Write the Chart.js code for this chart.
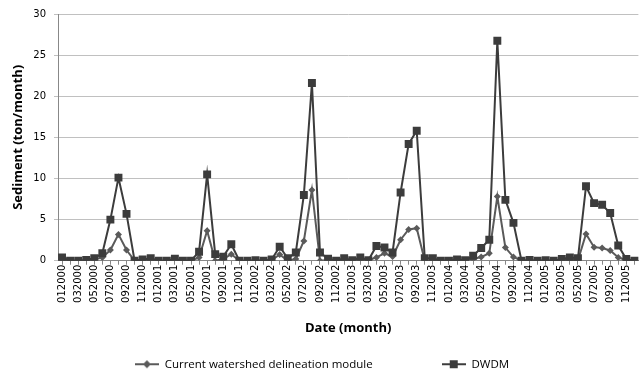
<!DOCTYPE html>
<html>
<head>
<meta charset="utf-8">
<script src="https://cdn.jsdelivr.net/npm/chart.js@4"></script>
<style>
  html, body { margin: 0; padding: 0; background: #fff; }
  #wrap { width: 644px; height: 374px; }
</style>
</head>
<body>
<div id="wrap"><canvas id="canvas"></canvas></div>
<script>
const years = ["2000", "2001", "2002", "2003", "2004", "2005"];
const months = ["01", "02", "03", "04", "05", "06", "07", "08", "09", "10", "11", "12"];
const labels = [];
years.forEach((y) => months.forEach((m) => labels.push(m + y)));

// sediment, ton/month
const currentModule = [
	0.05, 0, 0, 0, 0.15, 0.4, 1.3, 3.2, 1.3, 0, 0.05, 0.1,
	0, 0, 0.1, 0, 0, 0.4, 3.65, 0, 0.2, 0.8, 0, 0,
	0, 0, 0.05, 0.75, 0, 0.2, 2.4, 8.6, 0, 0.1, 0, 0.1,
	0, 0.2, 0.05, 0.4, 0.9, 0.5, 2.55, 3.8, 3.95, 0, 0, 0,
	0, 0, 0, 0.2, 0.45, 0.9, 7.8, 1.6, 0.45, 0, 0, 0,
	0, 0, 0.05, 0.1, 0.05, 3.25, 1.65, 1.55, 1.25, 0.4, 0.05, 0,
];
const dwdm = [
	0.4, 0, 0, 0.1, 0.3, 0.9, 5.0, 10.1, 5.7, 0, 0.15, 0.3,
	0, 0, 0.25, 0, 0, 1.1, 10.5, 0.8, 0.5, 2.0, 0, 0,
	0.05, 0, 0.15, 1.7, 0.3, 1.0, 8.0, 21.6, 1.0, 0.25, 0, 0.3,
	0.05, 0.4, 0.05, 1.8, 1.6, 1.0, 8.3, 14.2, 15.8, 0.3, 0.3, 0,
	0, 0.15, 0.05, 0.6, 1.55, 2.55, 26.75, 7.4, 4.6, 0, 0.1, 0,
	0.05, 0, 0.2, 0.4, 0.3, 9.05, 7.0, 6.8, 5.8, 1.85, 0.2, 0,
];
const seriesNames = ["Current watershed delineation module", "DWDM"];
const yTicks = [0, 5, 10, 15, 20, 25, 30];

const currentColor = "#5a5a5a";
const dwdmColor = "#3c3c3c";

function legendIcon(shape, color) {
	const c = document.createElement("canvas");
	c.width = 24;
	c.height = 12;
	const g = c.getContext("2d");
	g.strokeStyle = color;
	g.fillStyle = color;
	g.lineWidth = 2;
	g.beginPath();
	g.moveTo(0, 6);
	g.lineTo(24, 6);
	g.stroke();
	g.beginPath();
	if (shape === "rect") {
		g.rect(8, 2, 8, 8);
	} else {
		g.moveTo(12, 2);
		g.lineTo(16, 6);
		g.lineTo(12, 10);
		g.lineTo(8, 6);
		g.closePath();
	}
	g.fill();
	return c;
}
const icons = [legendIcon("diamond", currentColor), legendIcon("rect", dwdmColor)];

const tickFont = { family: "'DejaVu Sans', sans-serif", size: 10 };
const titleFont = { family: "'Open Sans', sans-serif", size: 13, weight: "bold" };

new Chart(document.getElementById("canvas").getContext("2d"), {
	type: "line",
	data: {
		labels: labels,
		datasets: [
			{
				label: seriesNames[0],
				data: currentModule,
				borderColor: currentColor,
				backgroundColor: currentColor,
				borderWidth: 2,
				pointStyle: "rectRot",
				pointRadius: 3.5,
				pointBorderWidth: 0,
				tension: 0,
				order: 1,
			},
			{
				label: seriesNames[1],
				data: dwdm,
				borderColor: dwdmColor,
				backgroundColor: dwdmColor,
				borderWidth: 2,
				pointStyle: "rect",
				pointRadius: 5.6,
				pointBorderWidth: 0,
				tension: 0,
				order: 0,
			},
		],
	},
	options: {
		responsive: true,
		maintainAspectRatio: false,
		animation: false,
		layout: { padding: { top: 14, right: 0, bottom: -6, left: 0 } },
		plugins: {
			tooltip: { enabled: false },
			legend: {
				position: "bottom",
				labels: {
					usePointStyle: true,
					pointStyleWidth: 24,
					padding: 0,
					color: "#000",
					font: { family: "'Open Sans', sans-serif", size: 11.5 },
					sort: (a, b) => a.datasetIndex - b.datasetIndex,
					generateLabels(chart) {
						const items = Chart.defaults.plugins.legend.labels.generateLabels(chart);
						items.forEach((it) => {
							it.pointStyle = icons[it.datasetIndex];
							if (it.datasetIndex === 0) it.text = it.text + "\u2003\u2003\u2003\u2003\u2003\u2003";
						});
						return items;
					},
				},
			},
		},
		scales: {
			x: {
				offset: true,
				grid: { drawOnChartArea: false, drawTicks: true, tickLength: 4, color: "#888" },
				border: { color: "#888" },
				ticks: {
					autoSkip: false,
					minRotation: 90,
					maxRotation: 90,
					padding: 0,
					color: "#000",
					font: tickFont,
					callback: (v, i) => (i % 2 === 0 ? labels[i] : ""),
				},
				title: {
					display: true,
					text: "Date (month)",
					color: "#000",
					font: titleFont,
					padding: { top: 18, bottom: 22 },
				},
				afterFit: (s) => {
					s.paddingLeft = 0;
					s.paddingRight = 0;
				},
			},
			y: {
				min: 0,
				max: 30,
				grid: { color: "#c0c0c0", tickLength: 4 },
				border: { color: "#888" },
				afterBuildTicks: (s) => {
					s.ticks = yTicks.map((v) => ({ value: v }));
				},
				ticks: { padding: 8, color: "#000", font: tickFont },
				title: {
					display: true,
					text: "Sediment (ton/month)",
					color: "#000",
					font: titleFont,
					padding: { top: 10, bottom: 0 },
				},
				afterFit: (s) => {
					s.width = 58;
					s.paddingTop = 0;
					s.paddingBottom = 0;
				},
			},
		},
	},
});
</script>
</body>
</html>
